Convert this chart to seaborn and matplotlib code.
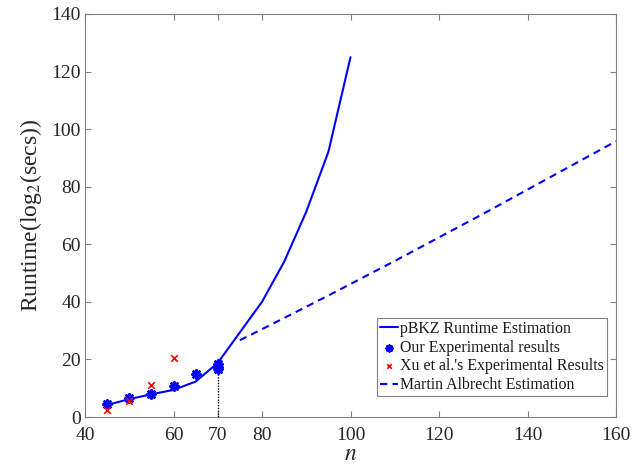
import numpy as np
import pandas as pd
import matplotlib
matplotlib.use("Agg")
import matplotlib.pyplot as plt
import seaborn as sns

# pBKZ runtime estimation (log2 seconds) by block size n
pbkz_n = [45, 50, 55, 60, 65, 70, 75, 80, 85, 90, 95, 100]
pbkz_t = [4.2, 6.2, 7.9, 9.4, 12.3, 18.8, 29.4, 40.0, 53.9, 71.3, 92.1, 125.0]

# Our experimental results
ours_n = [45, 50, 55, 60, 65, 70, 70, 70]
ours_t = [4.4, 6.5, 8.1, 10.6, 14.8, 18.3, 17.4, 16.6]

# Xu et al.'s experimental results
xu_n = [45, 50, 55, 60]
xu_t = [2.4, 5.7, 11.0, 20.4]

# Martin Albrecht estimation
ma_n = [75, 80, 85, 90, 95, 100, 105, 110, 115, 120, 125, 130, 135, 140,
        145, 150, 155, 160]
ma_t = [26.7, 30.5, 34.4, 38.3, 42.2, 46.2, 50.2, 54.2, 58.3, 62.4, 66.5,
        70.6, 74.8, 79.0, 83.2, 87.4, 91.6, 95.8]

# Height of the marker line at n = 70
cut_n = 70
cut_t = 16.4

x_ticks = [40, 60, 70, 80, 100, 120, 140, 160]
y_ticks = [0, 20, 40, 60, 80, 100, 120, 140]

sns.set_style("ticks")
plt.rcParams["font.family"] = ["Liberation Serif", "DejaVu Serif"]
plt.rcParams["mathtext.fontset"] = "stix"

fig = plt.figure(figsize=(6.33, 4.68), dpi=100)
ax = fig.add_axes([85 / 633, 1 - 417 / 468, 531 / 633, 403 / 468])

pbkz = pd.DataFrame({"n": pbkz_n, "t": pbkz_t})
ours = pd.DataFrame({"n": ours_n, "t": ours_t})
xu = pd.DataFrame({"n": xu_n, "t": xu_t})
ma = pd.DataFrame({"n": ma_n, "t": ma_t})

ax.plot([cut_n, cut_n], [0, cut_t], color="black", lw=1.0, ls=(0, (1, 1)),
        zorder=1)

sns.lineplot(data=pbkz, x="n", y="t", ax=ax, color=(0, 0, 1), lw=1.5,
             label="pBKZ Runtime Estimation", zorder=3)
sns.scatterplot(data=ours, x="n", y="t", ax=ax, marker=(8, 2, 0), s=34,
                color=(0, 0, 1), edgecolor=(0, 0, 1), linewidth=1.9,
                label="Our Experimental results", zorder=4)
sns.scatterplot(data=xu, x="n", y="t", ax=ax, marker="x", s=22,
                color=(1, 0, 0), linewidth=1.2,
                label="Xu et al.'s Experimental Results", zorder=4)
sns.lineplot(data=ma, x="n", y="t", ax=ax, color=(0, 0, 1), lw=1.5,
             dashes=False, label="Martin Albrecht Estimation", zorder=3)
ax.lines[-1].set_linestyle((0, (3.5, 2.5)))

ax.set_xlim(40, 160)
ax.set_ylim(0, 140)
ax.set_xticks(x_ticks)
ax.set_yticks(y_ticks)

ax.set_xlabel("$n$", fontsize=17, labelpad=0)
ax.set_ylabel("Runtime(log$_2$(secs))", fontsize=17, labelpad=5)

for side in ["left", "right", "top", "bottom"]:
    ax.spines[side].set_visible(True)
    ax.spines[side].set_color("#808080")
    ax.spines[side].set_linewidth(0.8)
ax.tick_params(direction="in", top=True, right=True, length=4,
               width=0.8, color="#808080", labelsize=14,
               labelcolor="#262626", pad=3)
ax.tick_params(axis="x", pad=7)

leg = ax.legend(loc="upper left", bbox_to_anchor=(0.55, 0.246),
                fontsize=11.4, frameon=True, fancybox=False,
                edgecolor="#808080", framealpha=1, borderpad=0.2,
                labelspacing=0.17, handlelength=1.15, handletextpad=0.1,
                borderaxespad=0, markerscale=0.7)
leg.get_frame().set_linewidth(0.8)
for t in leg.get_texts():
    t.set_color("#1a1a1a")

fig.savefig("out.png", dpi=100)
